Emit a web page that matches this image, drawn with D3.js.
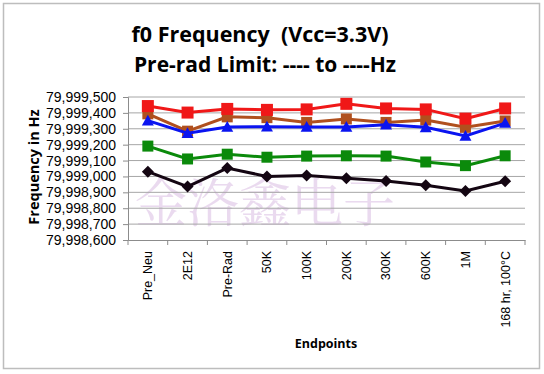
<!DOCTYPE html>
<html>
<head>
<meta charset="utf-8">
<script src="https://cdn.jsdelivr.net/npm/d3@7"></script>
<style>
  body { margin: 0; background: #fff; }
  svg { display: block; font-family: "Open Sans", "Noto Sans", sans-serif; }
</style>
</head>
<body>
<div id="chart"></div>
<script>
const categories = ['Pre_Neu', '2E12', 'Pre-Rad', '50K', '100K', '200K', '300K', '600K', '1M', '168 hr, 100°C'];
const yTicks = [79998600, 79998700, 79998800, 79998900, 79999000, 79999100, 79999200, 79999300, 79999400, 79999500];

// values in Hz
const blackVals = [79999030, 79998936, 79999053, 79999000, 79999006, 79998989, 79998972, 79998945, 79998909, 79998970];
const greenVals = [79999191, 79999110, 79999140, 79999121, 79999128, 79999130, 79999128, 79999091, 79999068, 79999130];
const brownVals = [79999394, 79999285, 79999375, 79999370, 79999340, 79999362, 79999340, 79999355, 79999309, 79999349];
const blueVals = [79999351, 79999272, 79999311, 79999313, 79999311, 79999311, 79999326, 79999309, 79999255, 79999336];
const redVals = [79999443, 79999402, 79999425, 79999419, 79999422, 79999457, 79999428, 79999422, 79999364, 79999428];

const series = [
  { name: 'black', values: blackVals, color: '#140612', marker: 'diamond', size: 12 },
  { name: 'green', values: greenVals, color: '#0b8a0b', marker: 'square', size: 11 },
  { name: 'brown', values: brownVals, color: '#b0501e', marker: 'square', size: 11 },
  { name: 'blue', values: blueVals, color: '#0a14f0', marker: 'triangle', size: 12 },
  { name: 'red', values: redVals, color: '#f01818', marker: 'square', size: 12 }
];

const width = 544, height = 374;
const margin = { left: 128, right: 19, top: 97, bottom: 134 };

const svg = d3.select('#chart').append('svg')
  .attr('width', width)
  .attr('height', height);

// chart frame
svg.append('rect')
  .attr('x', 3.5).attr('y', 3.5)
  .attr('width', 536).attr('height', 365)
  .attr('fill', '#fff')
  .attr('stroke', '#bdbdbd')
  .attr('stroke-width', 1.5);

const x = d3.scaleBand()
  .domain(categories)
  .range([margin.left, width - margin.right]);

const y = d3.scaleLinear()
  .domain([79998600, 79999500])
  .range([height - margin.bottom, margin.top]);

// watermark (faint, behind the grid)
svg.append('text')
  .attr('x', 265).attr('y', 222)
  .attr('text-anchor', 'middle')
  .attr('font-family', '"Noto Serif CJK SC", "Noto Sans CJK SC", serif')
  .attr('font-size', 52)
  .attr('fill', '#e6d2ec')
  .attr('opacity', 0.8)
  .text('金洛鑫电子');

// gridlines
svg.append('g')
  .selectAll('line')
  .data(yTicks.slice(1))
  .enter().append('line')
  .attr('x1', margin.left).attr('x2', width - margin.right)
  .attr('y1', d => y(d)).attr('y2', d => y(d))
  .attr('stroke', '#a6a6a6')
  .attr('stroke-width', 1);

// y axis
const yAxis = svg.append('g')
  .attr('transform', `translate(${margin.left},0)`)
  .call(d3.axisLeft(y).tickValues(yTicks).tickSize(5).tickPadding(7).tickFormat(d3.format(',')));
yAxis.select('.domain').attr('stroke', '#8c8c8c');
yAxis.selectAll('.tick line').attr('stroke', '#8c8c8c');
yAxis.selectAll('.tick text').attr('font-size', 14).attr('fill', '#000');

// x axis
const xAxis = svg.append('g')
  .attr('transform', `translate(0,${height - margin.bottom})`)
  .call(d3.axisBottom(x).tickSize(0).tickPadding(0));
xAxis.select('.domain').attr('stroke', '#8c8c8c');
xAxis.selectAll('.tick text')
  .attr('font-size', 12.5)
  .attr('fill', '#000')
  .attr('text-anchor', 'end')
  .attr('transform', 'rotate(-90)')
  .attr('x', -11)
  .attr('y', 0)
  .attr('dy', '0.35em');
// band boundary ticks
xAxis.append('g')
  .selectAll('line')
  .data(categories.concat(['__end']))
  .enter().append('line')
  .attr('x1', (d, i) => margin.left + i * x.bandwidth())
  .attr('x2', (d, i) => margin.left + i * x.bandwidth())
  .attr('y1', 0).attr('y2', 5)
  .attr('stroke', '#8c8c8c');

// lines and markers
const line = d3.line()
  .x((d, i) => x(categories[i]) + x.bandwidth() / 2)
  .y(d => y(d));

function markerPath(type, s) {
  const h = s / 2;
  if (type === 'diamond') return `M0,${-h}L${h},0L0,${h}L${-h},0Z`;
  if (type === 'triangle') return `M0,${-h}L${h},${h * 0.8}L${-h},${h * 0.8}Z`;
  return `M${-h},${-h}H${h}V${h}H${-h}Z`;
}

series.forEach(s => {
  const g = svg.append('g').attr('class', 'series-' + s.name);
  g.append('path')
    .datum(s.values)
    .attr('fill', 'none')
    .attr('stroke', s.color)
    .attr('stroke-width', 3)
    .attr('d', line);
  g.selectAll('path.mark')
    .data(s.values)
    .enter().append('path')
    .attr('class', 'mark')
    .attr('transform', (d, i) => `translate(${x(categories[i]) + x.bandwidth() / 2},${y(d)})`)
    .attr('d', markerPath(s.marker, s.size))
    .attr('fill', s.color);
});

// titles
svg.append('text')
  .attr('x', 260).attr('y', 42)
  .attr('text-anchor', 'middle')
  .attr('font-size', 21.5).attr('font-weight', 'bold')
  .attr('xml:space', 'preserve')
  .text('f0 Frequency  (Vcc=3.3V)');
svg.append('text')
  .attr('x', 265).attr('y', 72)
  .attr('text-anchor', 'middle')
  .attr('font-size', 21).attr('font-weight', 'bold')
  .text('Pre-rad Limit: ---- to ----Hz');

svg.append('text')
  .attr('transform', 'translate(39,167) rotate(-90)')
  .attr('text-anchor', 'middle')
  .attr('font-size', 14.5).attr('font-weight', 'bold')
  .text('Frequency in Hz');

svg.append('text')
  .attr('x', 326).attr('y', 348)
  .attr('text-anchor', 'middle')
  .attr('font-size', 12.5).attr('font-weight', 'bold')
  .text('Endpoints');
</script>
</body>
</html>
